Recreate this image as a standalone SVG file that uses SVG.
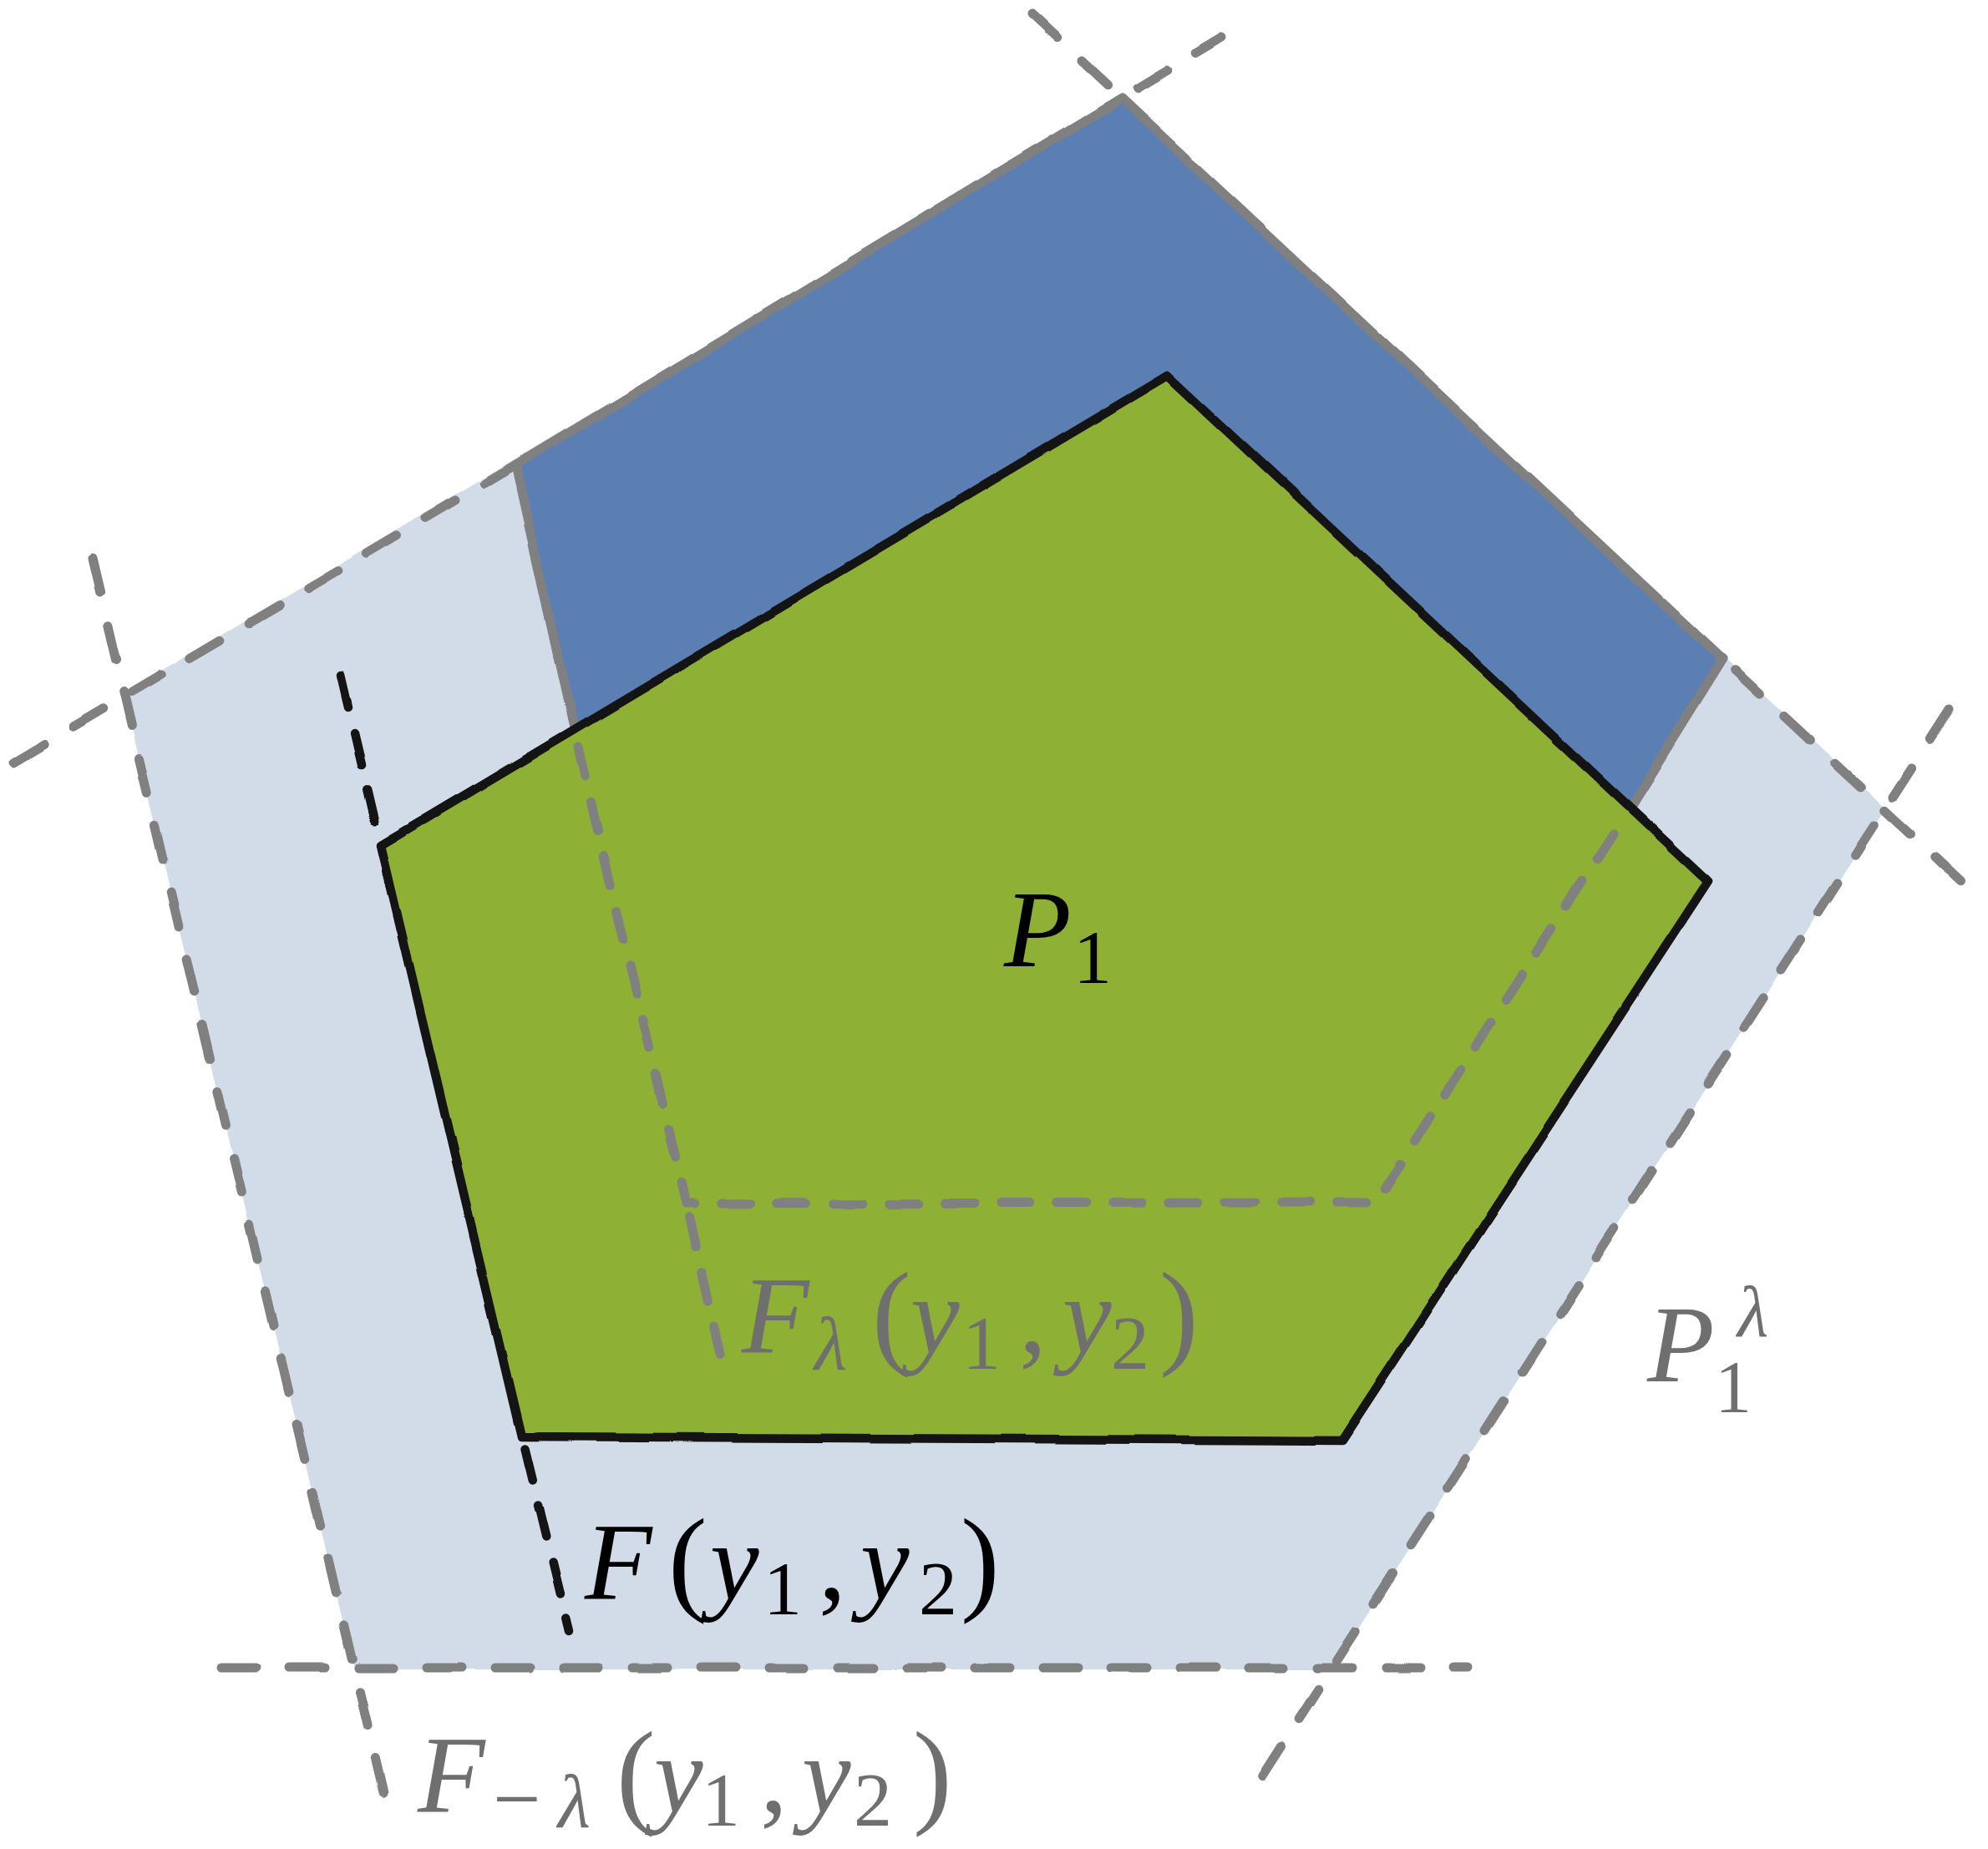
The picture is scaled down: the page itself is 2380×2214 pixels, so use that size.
<svg xmlns="http://www.w3.org/2000/svg" width="2380" height="2214" viewBox="0 0 2380 2214">
<defs>
<style>
.gs{stroke:#808080;stroke-width:11;fill:none;stroke-linecap:round;stroke-linejoin:round}
.gd{stroke:#808080;stroke-width:11;fill:none;stroke-linecap:round;stroke-linejoin:round;stroke-dasharray:42 40}
.gi{stroke:#808080;stroke-width:11;fill:none;stroke-linecap:round;stroke-linejoin:round;stroke-dasharray:35 32}
.bd{stroke:#141414;stroke-width:10.5;fill:none;stroke-linecap:round;stroke-dasharray:39 31}
.m{font-family:"Liberation Serif","DejaVu Serif",serif}
.it{font-style:italic}
.gt{fill:#6f6f6f}
.bt{fill:#000000}
</style>
<filter id="rough" filterUnits="userSpaceOnUse" x="0" y="0" width="2380" height="2214" color-interpolation-filters="sRGB">
<feTurbulence type="fractalNoise" baseFrequency="0.010" numOctaves="2" seed="4" result="n"/>
<feDisplacementMap in="SourceGraphic" in2="n" scale="6" xChannelSelector="R" yChannelSelector="G"/>
</filter>
</defs>
<rect width="2380" height="2214" fill="#ffffff"/>
<g id="shapes" filter="url(#rough)">
<g id="region-P1-lambda"><polygon points="1343,115 2258,968 1595,1999 424,1999 148,830" fill="#d2dce9"/></g>
<g id="region-band"><polygon points="617,557 1343,117 2062,789 1952,966 1398,450 687,872" fill="#5c7fb3"/></g>
<g id="connectors-outer">
<path class="gd" d="M16 913 L617 557"/>
<path class="gd" style="stroke-dashoffset:60" d="M1343 117 L1463 45"/>
<path class="gd" d="M1236 17 L1343 117"/>
<path class="gd" style="stroke-dashoffset:62" d="M2062 789 L2365 1071"/>
<path class="gd" d="M2333 850 L1498 2148"/>
<path class="gd" d="M265 1997 L1758 1997"/>
<path class="gd" d="M110 669 L466 2176"/>
<path class="gs" d="M687 872 L617 557 L1343 117 L2062 789 L1952 966"/>
</g>
<g id="region-P1"><polygon points="1398,450 2045,1055 1607,1725 624,1720 456,1012" fill="#8eb034" stroke="#141414" stroke-width="10.5" stroke-linejoin="round"/></g>
<g id="connectors-inner">
<path class="gi" d="M692 895 L822 1441 L1647 1440 L1944 979"/>
<path class="gi" style="stroke-dashoffset:50" d="M822 1441 L869 1648"/>
<path class="bd" d="M408 809 L456 1012"/>
<path class="bd" style="stroke-dashoffset:55" d="M624 1720 L681 1954"/>
</g>
</g>
<g id="label-P1"><text class="m bt"><tspan class="it" x="1202" y="1157" font-size="132">P</tspan><tspan x="1285" y="1177" font-size="92">1</tspan></text></g>
<g id="label-P1-lambda"><text class="m gt"><tspan class="it" x="1972" y="1654" font-size="132">P</tspan><tspan x="2053" y="1690" font-size="88">1</tspan><tspan class="it" x="2080" y="1600" font-size="86">λ</tspan></text></g>
<g id="label-F"><text class="m bt"><tspan class="it" x="700" y="1915" font-size="132">F</tspan><tspan x="800" y="1915" font-size="140">(</tspan><tspan class="it" x="850" y="1915" font-size="132">y</tspan><tspan x="914" y="1933" font-size="92">1</tspan><tspan x="980" y="1915" font-size="132">,</tspan><tspan class="it" x="1030" y="1915" font-size="132">y</tspan><tspan x="1100" y="1933" font-size="92">2</tspan><tspan x="1150" y="1915" font-size="140">)</tspan></text></g>
<g id="label-F-lambda"><text class="m gt"><tspan class="it" x="888" y="1620" font-size="132">F</tspan><tspan class="it" x="975" y="1640" font-size="90">λ</tspan><tspan x="1044" y="1620" font-size="140">(</tspan><tspan class="it" x="1090" y="1620" font-size="132">y</tspan><tspan x="1152" y="1639" font-size="92">1</tspan><tspan x="1220" y="1620" font-size="132">,</tspan><tspan class="it" x="1272" y="1620" font-size="132">y</tspan><tspan x="1330" y="1639" font-size="92">2</tspan><tspan x="1388" y="1620" font-size="140">)</tspan></text></g>
<g id="label-F-minus-lambda"><text class="m gt"><tspan class="it" x="500" y="2170" font-size="132">F</tspan><tspan x="590" y="2188" font-size="102">−</tspan><tspan class="it" x="668" y="2188" font-size="90">λ</tspan><tspan x="738" y="2170" font-size="140">(</tspan><tspan class="it" x="783" y="2170" font-size="132">y</tspan><tspan x="840" y="2186" font-size="92">1</tspan><tspan x="910" y="2170" font-size="132">,</tspan><tspan class="it" x="960" y="2170" font-size="132">y</tspan><tspan x="1022" y="2186" font-size="92">2</tspan><tspan x="1093" y="2170" font-size="140">)</tspan></text></g>
</svg>
